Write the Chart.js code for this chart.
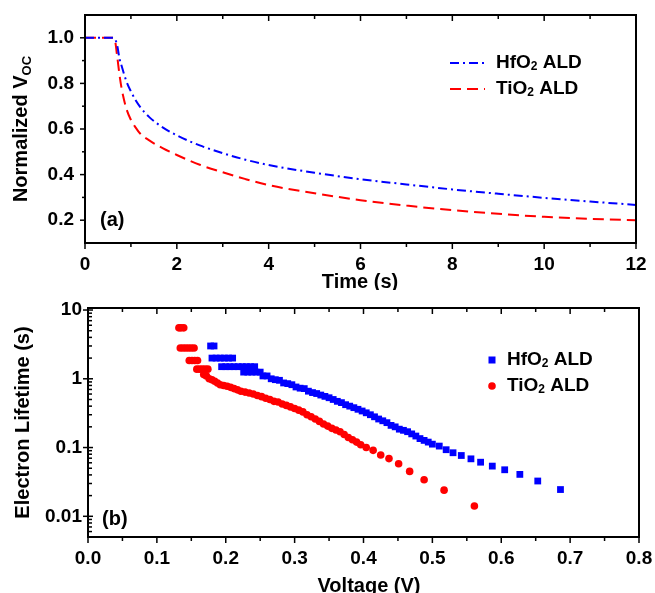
<!DOCTYPE html>
<html>
<head>
<meta charset="utf-8">
<script src="https://cdn.jsdelivr.net/npm/chart.js@4.4.1/dist/chart.umd.min.js"></script>
<style>
  body { margin: 0; background: #fff; }
  #boxA { position: absolute; left: 0; top: 0; width: 655px; height: 290px; }
  #boxB { position: absolute; left: 0; top: 290px; width: 655px; height: 303px; }
</style>
</head>
<body>
<div id="boxA"><canvas id="chartA"></canvas></div>
<div id="boxB"><canvas id="chartB"></canvas></div>
<script>
// ---- data (a): normalized Voc decay
const timeS = [0, 0.3, 0.6, 0.65, 0.7, 0.75, 0.8, 0.9, 1.0, 1.1, 1.2, 1.4, 1.7, 2.0, 2.5, 3, 3.5, 4, 5, 6, 7, 8, 9, 10, 11, 12];
const hfVoc = [1.0, 1.0, 1.0, 0.995, 0.968, 0.91, 0.875, 0.81, 0.765, 0.727, 0.697, 0.652, 0.606, 0.572, 0.528, 0.494, 0.465, 0.442, 0.408, 0.38, 0.357, 0.335, 0.316, 0.298, 0.282, 0.267];
const tiVoc = [1.0, 1.0, 1.0, 0.99, 0.92, 0.84, 0.775, 0.69, 0.64, 0.607, 0.58, 0.55, 0.515, 0.486, 0.443, 0.41, 0.38, 0.354, 0.318, 0.288, 0.264, 0.244, 0.228, 0.215, 0.206, 0.2];
const timeTicks = [0, 2, 4, 6, 8, 10, 12];
const vocTicks = [0.2, 0.4, 0.6, 0.8, 1.0];

// ---- data (b): electron lifetime vs voltage
const hfV = [0.178, 0.183,
  0.180, 0.186, 0.192, 0.198, 0.204, 0.210,
  0.194, 0.200, 0.206, 0.212, 0.218, 0.224, 0.230, 0.236, 0.242,
  0.226, 0.232, 0.238, 0.244, 0.250,
  0.254, 0.260, 0.266, 0.272, 0.278, 0.284, 0.290, 0.296, 0.302, 0.308, 0.314, 0.320, 0.326, 0.332, 0.338, 0.344,
  0.350, 0.356, 0.362, 0.368, 0.374, 0.380, 0.386, 0.392, 0.398, 0.404, 0.410, 0.416, 0.422, 0.428, 0.434, 0.440,
  0.446, 0.452, 0.458, 0.464, 0.470, 0.476, 0.482, 0.488, 0.494, 0.500, 0.510, 0.520, 0.530, 0.542, 0.556, 0.570,
  0.587, 0.605, 0.627, 0.653, 0.686];
const hfTau = [3.0, 3.0,
  2.0, 2.0, 2.0, 2.0, 2.0, 2.0,
  1.5, 1.5, 1.5, 1.5, 1.5, 1.5, 1.5, 1.5, 1.5,
  1.25, 1.25, 1.25, 1.25, 1.25,
  1.1, 1.1, 1.0, 0.97, 0.95, 0.87, 0.85, 0.82, 0.76, 0.73, 0.72, 0.66, 0.63, 0.61, 0.58, 0.555,
  0.53, 0.50, 0.47, 0.45, 0.42, 0.40, 0.38, 0.36, 0.34, 0.32, 0.30, 0.28, 0.26, 0.245, 0.23, 0.21,
  0.20, 0.185, 0.178, 0.17, 0.158, 0.147, 0.135, 0.127, 0.12, 0.112, 0.105, 0.093, 0.084, 0.0766, 0.0685, 0.0612,
  0.0537, 0.0475, 0.0407, 0.0326, 0.0245];
const tiV = [0.132, 0.135, 0.139,
  0.134, 0.138, 0.142, 0.146, 0.150, 0.154,
  0.147, 0.151, 0.155, 0.159,
  0.158, 0.162, 0.166, 0.170, 0.174,
  0.168, 0.172, 0.176, 0.180, 0.184, 0.188, 0.192, 0.197, 0.202, 0.207, 0.212, 0.217, 0.222, 0.228, 0.234, 0.240,
  0.246, 0.252, 0.258, 0.264, 0.270, 0.276, 0.282, 0.288, 0.294, 0.300, 0.306, 0.312, 0.318, 0.324, 0.330, 0.336,
  0.342, 0.348, 0.354, 0.360, 0.366, 0.372, 0.378, 0.384, 0.390, 0.396, 0.404, 0.414, 0.425, 0.437, 0.451, 0.467,
  0.488, 0.517, 0.561];
const tiTau = [5.5, 5.5, 5.5,
  2.8, 2.8, 2.8, 2.8, 2.8, 2.8,
  1.84, 1.84, 1.84, 1.84,
  1.38, 1.38, 1.38, 1.38, 1.38,
  1.15, 1.1, 1.0, 0.97, 0.92, 0.87, 0.82, 0.80, 0.78, 0.75, 0.72, 0.69, 0.66, 0.64, 0.62, 0.60,
  0.57, 0.55, 0.52, 0.50, 0.47, 0.46, 0.43, 0.41, 0.39, 0.37, 0.35, 0.33, 0.30, 0.28, 0.26, 0.24,
  0.22, 0.205, 0.19, 0.18, 0.17, 0.155, 0.14, 0.13, 0.12, 0.11, 0.10, 0.091, 0.078, 0.069, 0.058, 0.045,
  0.034, 0.024, 0.0141];
const voltTicks = [0, 0.1, 0.2, 0.3, 0.4, 0.5, 0.6, 0.7, 0.8];
const lifeTicks = [0.01, 0.1, 1, 10];

const FAMILY = "'Liberation Sans', Arial, sans-serif";
const BLUE = '#0000ff';
const RED = '#ff0000';

// text with subscript parts: [[text, isSub], ...]
function partsWidth(ctx, parts, size) {
  let w = 0;
  parts.forEach(p => {
    ctx.font = 'bold ' + (p[1] ? Math.round(size * 0.65) : size) + 'px ' + FAMILY;
    w += ctx.measureText(p[0]).width;
  });
  return w;
}
function drawParts(ctx, parts, x, y, size) {
  let cx = x;
  parts.forEach(p => {
    ctx.font = 'bold ' + (p[1] ? Math.round(size * 0.65) : size) + 'px ' + FAMILY;
    ctx.fillText(p[0], cx, y + (p[1] ? size * 0.22 : 0));
    cx += ctx.measureText(p[0]).width;
  });
}

// frame, tick marks, titles, legend and panel label
const decor = {
  id: 'decor',
  afterDraw(chart, args, o) {
    const ctx = chart.ctx, a = chart.chartArea;
    const xs = chart.scales.x, ys = chart.scales.y;
    ctx.save();
    ctx.strokeStyle = '#000';
    ctx.fillStyle = '#000';
    ctx.lineWidth = 1.5;
    const seg = (x1, y1, x2, y2) => { ctx.beginPath(); ctx.moveTo(x1, y1); ctx.lineTo(x2, y2); ctx.stroke(); };

    o.xTicks.forEach(t => {
      const px = xs.getPixelForValue(t.v);
      const L = t.major ? 6 : 4;
      seg(px, a.bottom, px, a.bottom + L);
      seg(px, a.top, px, a.top + L);
    });
    o.yTicks.forEach(t => {
      const py = ys.getPixelForValue(t.v);
      if (t.major) seg(a.left - 5, py, a.left + (o.yIn ? 5 : 0), py);
      else if (o.yIn) seg(a.left, py, a.left + 4, py);
      else seg(a.left - 3, py, a.left, py);
    });

    ctx.lineWidth = 2;
    ctx.strokeRect(a.left, a.top, a.right - a.left, a.bottom - a.top);

    // panel label
    ctx.textBaseline = 'middle';
    ctx.textAlign = 'left';
    ctx.font = 'bold 20px ' + FAMILY;
    ctx.fillText(o.panel[0], o.panel[1], o.panel[2]);

    // x title
    ctx.textBaseline = 'alphabetic';
    const xw = partsWidth(ctx, o.xTitle, 20);
    drawParts(ctx, o.xTitle, o.xTitleAt[0] - xw / 2, o.xTitleAt[1], 20);

    // y title, rotated
    const yw = partsWidth(ctx, o.yTitle, 20);
    ctx.save();
    ctx.translate(o.yTitleX, (a.top + a.bottom) / 2);
    ctx.rotate(-Math.PI / 2);
    drawParts(ctx, o.yTitle, -yw / 2, 0, 20);
    ctx.restore();

    // legend
    ctx.textBaseline = 'middle';
    o.legend.forEach(item => {
      ctx.strokeStyle = item.color;
      ctx.fillStyle = item.color;
      if (item.mark === 'line') {
        ctx.lineWidth = 2;
        ctx.setLineDash(item.dash);
        seg(item.x, item.y, item.x + 35, item.y);
        ctx.setLineDash([]);
      } else if (item.mark === 'rect') {
        ctx.fillRect(item.x - 3.5, item.y - 3.5, 7, 7);
      } else {
        ctx.beginPath(); ctx.arc(item.x, item.y, 3.8, 0, Math.PI * 2); ctx.fill();
      }
      ctx.fillStyle = '#000';
      drawParts(ctx, item.label, item.tx, item.y, 19);
    });
    ctx.restore();
  }
};

Chart.defaults.font.family = FAMILY;
Chart.defaults.font.weight = 'bold';
Chart.defaults.color = '#000';

function fixedTicks(list) {
  return scale => { scale.ticks = list.map(v => ({ value: v })); };
}
// fix the axis box size and drop label overhang so the plot frame sits where we want it
function fixBox(w, h) {
  return s => {
    if (w) s.width = w;
    if (h) s.height = h;
    s.paddingLeft = 0; s.paddingRight = 0; s.paddingTop = 0; s.paddingBottom = 0;
  };
}

// minor tick positions
const timeMarks = [];
for (let t = 0; t <= 12; t++) timeMarks.push({ v: t, major: t % 2 === 0 });
const vocMarks = [];
for (let k = 2; k <= 10; k++) vocMarks.push({ v: k / 10, major: k % 2 === 0 });
const voltMarks = [];
for (let k = 0; k <= 16; k++) voltMarks.push({ v: k * 0.05, major: k % 2 === 0 });
const lifeMarks = [];
[0.001, 0.01, 0.1, 1].forEach(d => {
  for (let k = 1; k <= 9; k++) {
    const v = d * k;
    if (v >= 0.005 && v <= 10) lifeMarks.push({ v: v, major: k === 1 });
  }
});
lifeMarks.push({ v: 10, major: true });

// ---- chart (a)
new Chart(document.getElementById('chartA'), {
  type: 'line',
  data: {
    datasets: [
      {
        label: 'HfO2 ALD',
        data: timeS.map((t, i) => ({ x: t, y: hfVoc[i] })),
        borderColor: BLUE, borderWidth: 2, borderDash: [9, 4, 2, 4],
        pointRadius: 0, cubicInterpolationMode: 'monotone'
      },
      {
        label: 'TiO2 ALD',
        data: timeS.map((t, i) => ({ x: t, y: tiVoc[i] })),
        borderColor: RED, borderWidth: 2, borderDash: [11, 6],
        pointRadius: 0, cubicInterpolationMode: 'monotone'
      }
    ]
  },
  options: {
    responsive: true, maintainAspectRatio: false, animation: false, devicePixelRatio: 1,
    layout: { padding: { top: 15, right: 19, left: 0, bottom: 0 } },
    plugins: {
      legend: { display: false }, tooltip: { enabled: false },
      decor: {
        xTicks: timeMarks, yTicks: vocMarks, yIn: false,
        panel: ['(a)', 100, 220],
        xTitle: [['Time (s)', false]], xTitleAt: [360, 288],
        yTitle: [['Normalized V', false], ['OC', true]], yTitleX: 27,
        legend: [
          { mark: 'line', color: BLUE, dash: [9, 4, 2, 4], x: 450, y: 63, tx: 496, label: [['HfO', false], ['2', true], [' ALD', false]] },
          { mark: 'line', color: RED, dash: [11, 6], x: 450, y: 89, tx: 496, label: [['TiO', false], ['2', true], [' ALD', false]] }
        ]
      }
    },
    scales: {
      x: {
        type: 'linear', min: 0, max: 12,
        afterBuildTicks: fixedTicks(timeTicks),
        afterFit: fixBox(0, 290 - 243),
        grid: { display: false, drawTicks: false }, border: { display: false },
        ticks: { font: { size: 19, weight: 'bold' }, padding: 10, maxRotation: 0 }
      },
      y: {
        type: 'linear', min: 0.1, max: 1.1,
        afterBuildTicks: fixedTicks(vocTicks),
        afterFit: fixBox(85, 0),
        grid: { display: false, drawTicks: false }, border: { display: false },
        ticks: { font: { size: 19, weight: 'bold' }, padding: 11, callback: v => v.toFixed(1) }
      }
    }
  },
  plugins: [decor]
});

// ---- chart (b)
new Chart(document.getElementById('chartB'), {
  type: 'scatter',
  data: {
    datasets: [
      {
        label: 'HfO2 ALD',
        data: hfV.map((v, i) => ({ x: v, y: hfTau[i] })),
        pointStyle: 'rect', pointRadius: 4.8, borderWidth: 0,
        backgroundColor: BLUE, borderColor: BLUE
      },
      {
        label: 'TiO2 ALD',
        data: tiV.map((v, i) => ({ x: v, y: tiTau[i] })),
        pointStyle: 'circle', pointRadius: 3.8, borderWidth: 0,
        backgroundColor: RED, borderColor: RED
      }
    ]
  },
  options: {
    responsive: true, maintainAspectRatio: false, animation: false, devicePixelRatio: 1,
    layout: { padding: { top: 18, right: 16, left: 0, bottom: 0 } },
    plugins: {
      legend: { display: false }, tooltip: { enabled: false },
      decor: {
        xTicks: voltMarks, yTicks: lifeMarks, yIn: true,
        panel: ['(b)', 102, 229],
        xTitle: [['Voltage (V)', false]], xTitleAt: [369, 302],
        yTitle: [['Electron Lifetime (s)', false]], yTitleX: 29,
        legend: [
          { mark: 'rect', color: BLUE, x: 492, y: 70, tx: 507, label: [['HfO', false], ['2', true], [' ALD', false]] },
          { mark: 'circle', color: RED, x: 492, y: 96, tx: 507, label: [['TiO', false], ['2', true], [' ALD', false]] }
        ]
      }
    },
    scales: {
      x: {
        type: 'linear', min: 0, max: 0.8,
        afterBuildTicks: fixedTicks(voltTicks),
        afterFit: fixBox(0, 303 - 247),
        grid: { display: false, drawTicks: false }, border: { display: false },
        ticks: { font: { size: 19, weight: 'bold' }, padding: 10, maxRotation: 0, callback: v => v.toFixed(1) }
      },
      y: {
        type: 'logarithmic', min: 0.005, max: 10.7,
        afterBuildTicks: fixedTicks(lifeTicks),
        afterFit: fixBox(88, 0),
        grid: { display: false, drawTicks: false }, border: { display: false },
        ticks: { font: { size: 19, weight: 'bold' }, padding: 6, callback: v => String(v) }
      }
    }
  },
  plugins: [decor]
});
</script>
</body>
</html>
